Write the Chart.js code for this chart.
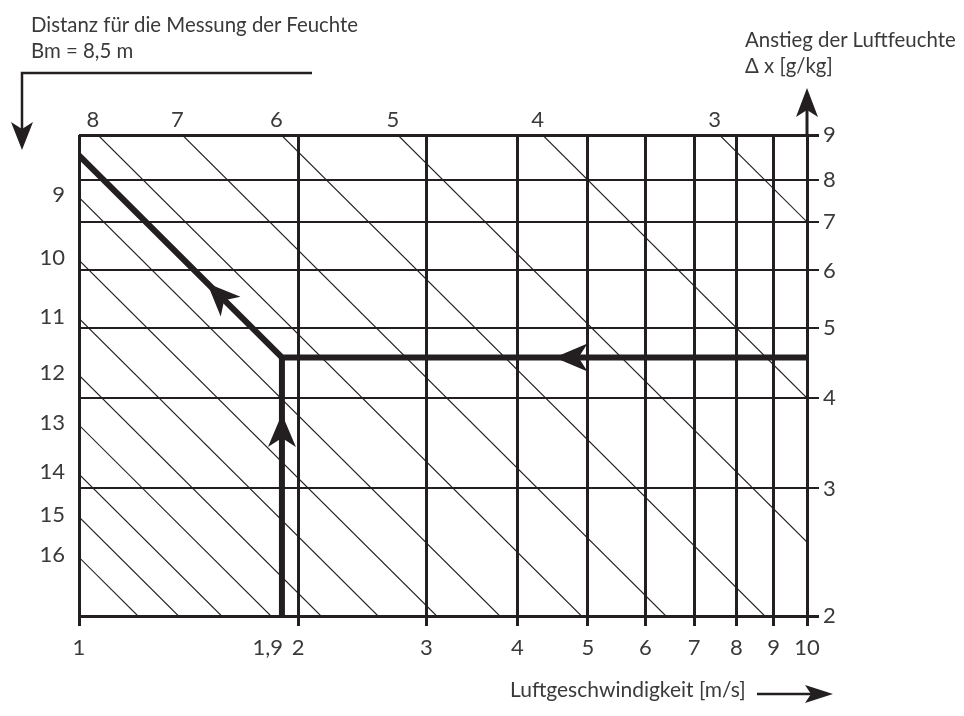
<!DOCTYPE html>
<html>
<head>
<meta charset="utf-8">
<script src="https://cdn.jsdelivr.net/npm/chart.js@4/dist/chart.umd.min.js"></script>
<style>
html, body { margin: 0; padding: 0; background: #ffffff; }
#wrap { position: relative; width: 964px; height: 716px; overflow: hidden; }
#c { position: absolute; left: 0; top: 0; }
.t { position: absolute; font-family: 'Lato', 'Open Sans', sans-serif; font-weight: 400; font-size: 20.4px;
     line-height: 26px; color: #3a3a3a; white-space: nowrap; }
</style>
</head>
<body>
<div id="wrap">
  <canvas id="c" width="964" height="716"></canvas>
  <div class="t" style="left:31px; top:11px;">Distanz für die Messung der Feuchte<br>Bm = 8,5 m</div>
  <div class="t" style="left:745px; top:26px;">Anstieg der Luftfeuchte<br>Δ x [g/kg]</div>
  <div class="t" style="left:510px; top:676px; font-size:21px;">Luftgeschwindigkeit [m/s]</div>
</div>
<script>
// ---- data ----
const xTickValues = [1, 1.9, 2, 3, 4, 5, 6, 7, 8, 9, 10];
const xTickLabels = ['1', '1,9', '2', '3', '4', '5', '6', '7', '8', '9', '10'];
const yTickValues = [2, 3, 4, 5, 6, 7, 8, 9.23];
const yTickLabels = ['2', '3', '4', '5', '6', '7', '8', '9'];

// distance lines (Bm in m) and the product Δx·v that each line keeps
const distances = [3, 4, 5, 6, 7, 8, 9, 10, 11, 12, 13, 14, 15, 16];
const distanceK = [70, 40, 25.3, 17.5, 12.8, 9.8, 7.57, 6.2, 5.15, 4.3, 3.67, 3.14, 2.74, 2.41];

// example reading (Bm = 8,5 m, v = 1,9 m/s)
const routeMainX = [10, 1.9, 1];
const routeMainY = [4.55, 4.55, 8.65];
const routeUpX = [1.9, 1.9];
const routeUpY = [2, 4.55];
const arrowX = [4.5, 1.9, 1.5];
const arrowY = [4.55, 3.8, 5.76];
const arrowRoute = ['main', 'up', 'main'];
const arrowSeg = [0, 0, 1];

// ---- build ----
const X_MIN = xTickValues[0], X_MAX = xTickValues[xTickValues.length - 1];
const Y_MIN = yTickValues[0], Y_MAX = yTickValues[yTickValues.length - 1];
const INK = '#231f20';
const TEXT = '#3a3a3a';
const FONT = { family: 'Lato, "Open Sans", sans-serif', size: 22, weight: '400' };

function lineEnds(k) {
  const start = (k / X_MIN <= Y_MAX) ? { x: X_MIN, y: k / X_MIN } : { x: k / Y_MAX, y: Y_MAX };
  const end = (k / X_MAX >= Y_MIN) ? { x: X_MAX, y: k / X_MAX } : { x: k / Y_MIN, y: Y_MIN };
  return [start, end];
}

const datasets = [];
distanceK.forEach((k, i) => {
  datasets.push({
    label: 'Bm ' + distances[i] + ' m',
    data: lineEnds(k),
    borderColor: INK, borderWidth: 1.1, pointRadius: 0, showLine: true, tension: 0
  });
});
const routes = {
  main: routeMainX.map((x, i) => ({ x, y: routeMainY[i] })),
  up: routeUpX.map((x, i) => ({ x, y: routeUpY[i] }))
};
datasets.push({ label: 'route', data: routes.main, borderColor: INK, borderWidth: 6, pointRadius: 0, showLine: true, borderJoinStyle: 'miter' });
datasets.push({ label: 'route up', data: routes.up, borderColor: INK, borderWidth: 6, pointRadius: 0, showLine: true });

function arrowHead(ctx, tx, ty, dx, dy, L, W, notch) {
  const len = Math.hypot(dx, dy); dx /= len; dy /= len;
  const nx = -dy, ny = dx;
  ctx.beginPath();
  ctx.moveTo(tx, ty);
  ctx.lineTo(tx - dx * L + nx * W, ty - dy * L + ny * W);
  ctx.lineTo(tx - dx * (L - notch), ty - dy * (L - notch));
  ctx.lineTo(tx - dx * L - nx * W, ty - dy * L - ny * W);
  ctx.closePath();
  ctx.fill();
}

const decor = {
  id: 'decor',
  afterDatasetsDraw(chart) {
    const ctx = chart.ctx;
    const xs = chart.scales.x, ys = chart.scales.y;
    const area = chart.chartArea;
    ctx.save();
    ctx.fillStyle = INK;
    ctx.strokeStyle = INK;

    // arrows on the example route
    arrowX.forEach((ax, i) => {
      const pts = routes[arrowRoute[i]];
      const s = arrowSeg[i];
      const p0 = { x: xs.getPixelForValue(pts[s].x), y: ys.getPixelForValue(pts[s].y) };
      const p1 = { x: xs.getPixelForValue(pts[s + 1].x), y: ys.getPixelForValue(pts[s + 1].y) };
      const tx = xs.getPixelForValue(ax), ty = ys.getPixelForValue(arrowY[i]);
      arrowHead(ctx, tx, ty, p1.x - p0.x, p1.y - p0.y, 33, 14, 9);
    });

    // distance labels
    ctx.font = FONT.weight + ' ' + FONT.size + 'px ' + FONT.family;
    ctx.fillStyle = TEXT;
    ctx.textBaseline = 'middle';
    distanceK.forEach((k, i) => {
      const st = lineEnds(k)[0];
      const px = xs.getPixelForValue(st.x), py = ys.getPixelForValue(st.y);
      if (st.y >= Y_MAX - 1e-9 && st.x > X_MIN) {
        ctx.textAlign = 'center';
        ctx.fillText(String(distances[i]), Math.max(area.left + 5, px - 5), area.top - 15);
      } else {
        ctx.textAlign = 'right';
        ctx.fillText(String(distances[i]), area.left - 14, py - 2);
      }
    });

    // frame arrows
    ctx.fillStyle = INK;
    ctx.lineWidth = 2.5;
    // top-left bent arrow
    ctx.beginPath();
    ctx.moveTo(312, 73); ctx.lineTo(22, 73); ctx.lineTo(22, 132);
    ctx.stroke();
    arrowHead(ctx, 22, 150, 0, 1, 28, 11, 7);
    // right axis arrow
    ctx.lineWidth = 3;
    ctx.beginPath();
    ctx.moveTo(area.right, area.top); ctx.lineTo(area.right, 110);
    ctx.stroke();
    arrowHead(ctx, area.right, 88, 0, -1, 29, 11, 7);
    // bottom arrow next to axis name
    ctx.lineWidth = 2.5;
    ctx.beginPath();
    ctx.moveTo(757, 694); ctx.lineTo(816, 694);
    ctx.stroke();
    arrowHead(ctx, 833, 694, 1, 0, 28, 9, 6);
    ctx.restore();
  }
};

new Chart(document.getElementById('c'), {
  type: 'scatter',
  data: { datasets },
  options: {
    responsive: false,
    animation: false,
    events: [],
    layout: { padding: { left: 79, top: 135, right: 0, bottom: 0 } },
    plugins: { legend: { display: false }, tooltip: { enabled: false } },
    scales: {
      x: {
        type: 'logarithmic', position: 'bottom', min: X_MIN, max: X_MAX,
        afterBuildTicks: (s) => { s.ticks = xTickValues.map(v => ({ value: v })); },
        afterFit: (s) => { s.height = 100; },
        border: { display: true, color: INK, width: 3 },
        grid: {
          color: (c) => (c.tick && c.tick.value === 1.9) ? 'rgba(0,0,0,0)' : INK,
          lineWidth: 3, tickLength: 10, drawOnChartArea: true
        },
        ticks: {
          autoSkip: false, maxRotation: 0, color: TEXT, font: FONT, padding: 9,
          callback: (v, i) => xTickLabels[i] === '1,9' ? xTickLabels[i] + '     ' : xTickLabels[i]
        }
      },
      y: {
        type: 'logarithmic', position: 'right', min: Y_MIN, max: Y_MAX,
        afterBuildTicks: (s) => { s.ticks = yTickValues.map(v => ({ value: v })); },
        afterFit: (s) => { s.width = 157; },
        border: { display: true, color: INK, width: 3 },
        grid: {
          color: INK,
          lineWidth: (c) => (c.tick && (c.tick.value === Y_MIN || c.tick.value === Y_MAX)) ? 3 : 2,
          tickLength: 12
        },
        ticks: {
          autoSkip: false, color: TEXT, font: FONT, padding: 4,
          callback: (v, i) => yTickLabels[i]
        }
      }
    }
  },
  plugins: [decor]
});
</script>
</body>
</html>
